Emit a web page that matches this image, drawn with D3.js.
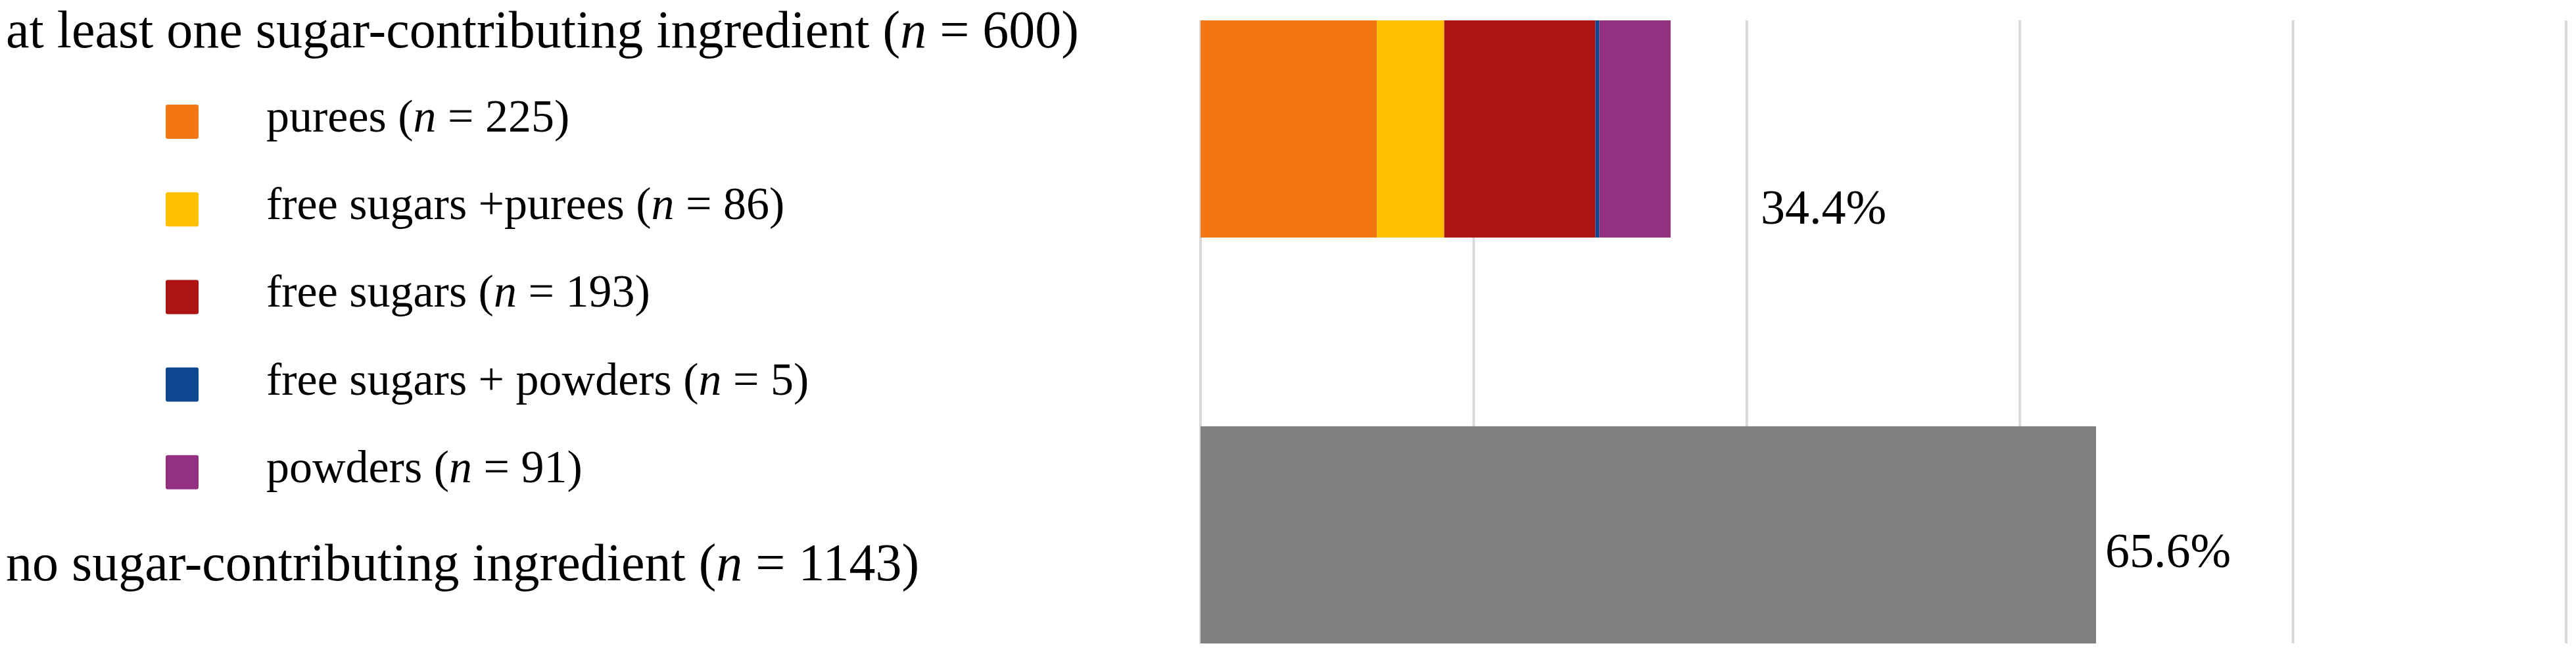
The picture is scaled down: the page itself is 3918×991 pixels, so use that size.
<!DOCTYPE html>
<html>
<head>
<meta charset="utf-8">
<script src="https://cdn.jsdelivr.net/npm/d3@7"></script>
<style>
  html, body { margin: 0; padding: 0; background: #fff; }
  text { font-family: 'Liberation Serif', 'DejaVu Serif', serif; fill: #000; }
</style>
</head>
<body>
<div id="chart"></div>
<script>
// categories (bars)
const categories = ['at least one sugar-contributing ingredient', 'no sugar-contributing ingredient'];
const categoryN = [600, 1143];

// stacked parts of the first bar
const segments = ['purees', 'free sugars +purees', 'free sugars', 'free sugars + powders', 'powders'];
const segmentN = [225, 86, 193, 5, 91];
const segmentColors = ['#f27712', '#ffc000', '#ac1313', '#0e4690', '#933180'];
const restColor = '#808080';

const barLabels = ['34.4%', '65.6%'];
const xTicks = [0, 20, 40, 60, 80, 100];

const width = 3918;
const height = 991;
const catFont = 80;
const legendFont = 70;
const valueFont = 74;

const total = d3.sum(categoryN);

const svg = d3.select('#chart')
  .append('svg')
  .attr('width', width)
  .attr('height', height);

const x = d3.scaleLinear().domain([0, 100]).range([1826, 3903]);
const y = d3.scaleBand().domain(categories).range([31, 978]).paddingInner(0.465).paddingOuter(0);

// gridlines
svg.selectAll('.grid')
  .data(xTicks)
  .enter()
  .append('line')
  .attr('x1', (d) => x(d))
  .attr('x2', (d) => x(d))
  .attr('y1', y.range()[0])
  .attr('y2', y.range()[1])
  .attr('stroke', '#d9d9d9')
  .attr('stroke-width', 4);

// stacked top bar
let acc = 0;
const stacked = segmentN.map((n, i) => {
  const v0 = acc;
  acc += (n / total) * 100;
  return { key: segments[i], v0, v1: acc, color: segmentColors[i] };
});

svg.selectAll('.seg')
  .data(stacked)
  .enter()
  .append('rect')
  .attr('x', (d) => x(d.v0))
  .attr('y', y(categories[0]))
  .attr('width', (d) => x(d.v1) - x(d.v0))
  .attr('height', y.bandwidth())
  .attr('fill', (d) => d.color);

// plain bottom bar
const restShare = (categoryN[1] / total) * 100;
svg.append('rect')
  .attr('x', x(0))
  .attr('y', y(categories[1]))
  .attr('width', x(restShare) - x(0))
  .attr('height', y.bandwidth())
  .attr('fill', restColor);

// value labels
svg.append('text')
  .attr('x', x(acc) + 137)
  .attr('y', y(categories[0]) + 309)
  .style('font-size', valueFont + 'px')
  .text(barLabels[0]);

svg.append('text')
  .attr('x', x(restShare) + 14)
  .attr('y', y(categories[1]) + 214)
  .style('font-size', valueFont + 'px')
  .text(barLabels[1]);

// label with italic n
function nLabel(sel, name, n) {
  sel.append('tspan').text(name + ' (');
  sel.append('tspan').style('font-style', 'italic').text('n');
  sel.append('tspan').text(' = ' + n + ')');
}

// category labels
const catOffset = [41, 234];
categories.forEach((c, i) => {
  const t = svg.append('text')
    .attr('x', 9)
    .attr('y', y(c) + catOffset[i])
    .style('font-size', catFont + 'px');
  nLabel(t, c, categoryN[i]);
});

// legend
const legend = svg.selectAll('.legend')
  .data(stacked)
  .enter()
  .append('g')
  .attr('class', 'legend')
  .attr('transform', (d, i) => `translate(252, ${159 + i * 133.2})`);

legend.append('rect')
  .attr('width', 50)
  .attr('height', 52)
  .attr('rx', 3)
  .attr('fill', (d) => d.color);

legend.append('text')
  .attr('x', 153)
  .attr('y', 41)
  .style('font-size', legendFont + 'px')
  .each(function (d, i) { nLabel(d3.select(this), d.key, segmentN[i]); });
</script>
</body>
</html>
